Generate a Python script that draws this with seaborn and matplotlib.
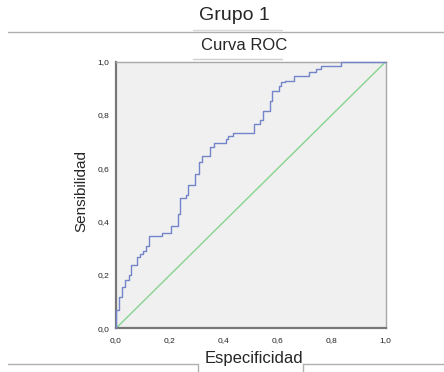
import matplotlib
matplotlib.use('Agg')
import matplotlib.pyplot as plt
import matplotlib.ticker as mticker
from matplotlib.lines import Line2D
import pandas as pd
import seaborn as sns

# ROC step corners (1 - specificity, sensitivity)
fpr = [0.0, 0.0, 0.011, 0.022, 0.033, 0.048, 0.057, 0.079, 0.089, 0.100, 0.110,
       0.124, 0.170, 0.204, 0.228, 0.238, 0.260, 0.268, 0.294, 0.306, 0.318,
       0.349, 0.364, 0.409, 0.417, 0.432, 0.510, 0.535, 0.545, 0.570, 0.579,
       0.603, 0.612, 0.628, 0.659, 0.717, 0.740, 0.761, 0.833, 1.0]
tpr = [0.0, 0.070, 0.117, 0.155, 0.180, 0.200, 0.238, 0.267, 0.277, 0.290, 0.310,
       0.348, 0.358, 0.383, 0.430, 0.490, 0.500, 0.537, 0.580, 0.623, 0.648,
       0.680, 0.695, 0.710, 0.723, 0.733, 0.767, 0.780, 0.816, 0.854, 0.891,
       0.907, 0.922, 0.929, 0.948, 0.963, 0.973, 0.985, 1.0, 1.0]
ref_line = [0.0, 1.0]
ticks = [0.0, 0.2, 0.4, 0.6, 0.8, 1.0]

sns.set_style('white')
plt.rcParams['font.family'] = ['Liberation Sans', 'DejaVu Sans']

fig = plt.figure(figsize=(4.44, 3.72), dpi=100)
ax = fig.add_axes([0.2613, 0.1175, 0.6074, 0.7167])
ax.set_facecolor('#f0f0f0')

df = pd.DataFrame({'fpr': fpr, 'tpr': tpr})
sns.lineplot(data=df, x='fpr', y='tpr', ax=ax, sort=False, estimator=None,
             drawstyle='steps-post', color='#7484c8', linewidth=1.0, zorder=5,
             clip_on=False)
sns.lineplot(x=ref_line, y=ref_line, ax=ax, color='#86d48e', linewidth=1.0)

ax.set_xlim(0, 1)
ax.set_ylim(0, 1)
ax.set_xticks(ticks)
ax.set_yticks(ticks)
fmt = mticker.FuncFormatter(lambda v, p: f'{v:.1f}'.replace('.', ','))
ax.xaxis.set_major_formatter(fmt)
ax.yaxis.set_major_formatter(fmt)
ax.tick_params(axis='both', direction='out', length=4, width=1, color='#555555',
               labelsize=6, pad=1, labelcolor='#222222')
ax.tick_params(axis='x', length=5)
ax.set_xlabel('')
ax.set_ylabel('')
for s in ['left', 'bottom']:
    ax.spines[s].set_color('#777777')
    ax.spines[s].set_linewidth(1.6)
for s in ['top', 'right']:
    ax.spines[s].set_color('#a8a8a8')
    ax.spines[s].set_linewidth(1.0)

# titles and labels
fig.text(234 / 444, 1 - 15 / 372, 'Grupo 1', ha='center', va='center', fontsize=14)
fig.text(244 / 444, 1 - 45 / 372, 'Curva ROC', ha='center', va='center', fontsize=12)
fig.text(254 / 444, 1 - 359 / 372, 'Especificidad', ha='center', va='center', fontsize=12)
fig.text(81 / 444, 1 - 191 / 372, 'Sensibilidad', ha='center', va='center',
         fontsize=11, rotation=90)

# frame lines of the chart layout
W, H = 444, 372
def seg(x0, y0, x1, y1, c='#b0b0b0', lw=1.0):
    fig.add_artist(Line2D([x0 / W, x1 / W], [1 - y0 / H, 1 - y1 / H],
                          transform=fig.transFigure, color=c, linewidth=lw))

seg(8, 32, 444, 32)
seg(193, 29.5, 282, 29.5, c='#d8d8d8')
seg(193, 58.5, 282, 58.5, c='#d0d0d0')
seg(8, 364, 198, 364)
seg(198, 364, 198, 372)
seg(303, 364, 444, 364)
seg(303, 364, 303, 372)

fig.savefig('out.png', dpi=100)
